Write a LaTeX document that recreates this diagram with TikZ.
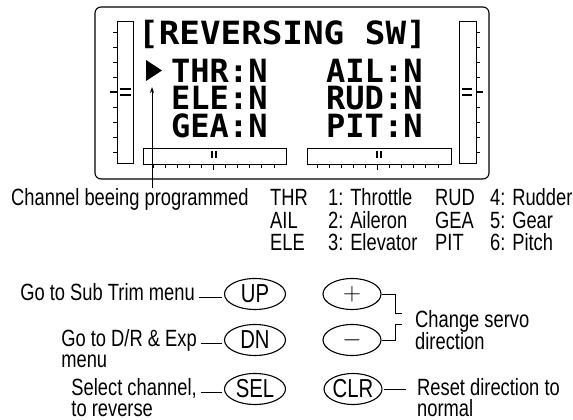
\documentclass[tikz,border=0pt]{standalone}
\usepackage{fontspec}
\setmainfont{Liberation Sans}[FakeStretch=0.78]
\newfontfamily\lcdfont{DejaVu Sans Mono}
\newfontfamily\lcdwide{DejaVu Sans Mono}[FakeStretch=1.07]
\usepackage{tikz}
\usetikzlibrary{positioning, shapes.geometric, arrows.meta}
\tikzset{
  lcd/.style={
    font=\lcdfont\bfseries\fontsize{32}{32}\selectfont,
    inner sep=0pt,
    text height=23pt, text depth=0pt,
    anchor=base west,
  },
  lbl/.style={
    font=\fontsize{23.5}{26}\selectfont,
    inner sep=0pt,
    anchor=base west,
  },
  btn/.style={
    draw, ellipse, line width=1.1pt,
    minimum width=61pt, minimum height=31pt,
    inner sep=0pt,
    font=\fontsize{26}{26}\selectfont,
  },
  bar/.style={draw, line width=0.9pt},
  conn/.style={line width=0.9pt}
}

\begin{document}
\begin{tikzpicture}[x=1pt, y=-1pt]
\useasboundingbox (0,0) rectangle (573,420);

% LCD frame
\draw[line width=1.1pt, rounded corners=6pt] (95,7) rectangle (489,179);

% Side trims
\draw[bar] (117,21) rectangle (133,163);
\draw[bar] (459,21) rectangle (476,163);
\foreach \y in {32,47,...,152} {
  \draw[bar] (113,\y) -- (117,\y);
  \draw[bar] (476,\y) -- (480,\y);
}
\draw[line width=1.6pt] (110,92) -- (117,92);
\draw[line width=1.6pt] (476,92) -- (483,92);
\draw[line width=1.4pt] (120,89) -- (131,89) (120,95) -- (131,95);
\draw[line width=1.4pt] (462,89) -- (472,89) (462,95) -- (472,95);

% Bottom trims
\draw[bar] (143,148) rectangle (286,164);
\draw[bar] (307,148) rectangle (451,164);
\foreach \k in {0,...,10} {
  \draw[bar] ({153+12.1*\k},164) -- ++(0,3.5);
  \draw[bar] ({317+12.1*\k},164) -- ++(0,3.5);
}
\draw[line width=1.6pt] (213.5,164) -- ++(0,5.5);
\draw[line width=1.6pt] (377.5,164) -- ++(0,5.5);
\draw[line width=1.4pt] (212,151) -- (212,158) (216,151) -- (216,158);
\draw[line width=1.4pt] (377,151) -- (377,158) (381,151) -- (381,158);

% Screen text
\node[lcd, font=\lcdwide\bfseries\fontsize{32}{32}\selectfont] (title) at (138,45) {[REVERSING SW]};
\fill (146,60) -- (162,70.5) -- (146,81) -- cycle;
\node[lcd] (thr) at (171,82) {THR:N};
\node[lcd] (ele) at (171,110) {ELE:N};
\node[lcd] (gea) at (171,137) {GEA:N};
\node[lcd] (ail) at (326,82) {AIL:N};
\node[lcd] (rud) at (326,110) {RUD:N};
\node[lcd] (pit) at (326,137) {PIT:N};

% Legend
\node[lbl] (chan) at (11,205) {Channel beeing programmed};
\coordinate (tip) at (152,87);
\draw[conn, -{Stealth[length=6pt, width=4pt]}] (chan.north -| tip) -- (tip);

\node[lbl] (ithr) at (270,205) {THR};
\node[lbl] (nthr) at (328,205) {1: Throttle};
\node[lbl] (irud) at (435,205) {RUD};
\node[lbl] (nrud) at (490,205) {4: Rudder};
\node[lbl] (iail) at (270,228) {AIL};
\node[lbl] (nail) at (328,228) {2: Aileron};
\node[lbl] (igea) at (435,228) {GEA};
\node[lbl] (ngea) at (490,228) {5: Gear};
\node[lbl] (iele) at (270,250) {ELE};
\node[lbl] (nele) at (328,250) {3: Elevator};
\node[lbl] (ipit) at (435,250) {PIT};
\node[lbl] (npit) at (490,250) {6: Pitch};

% Keys
\node[btn] (up) at (255,294) {UP};
\node[btn] (dn) at (255,340) {DN};
\node[btn] (sel) at (255,389) {SEL};
\node[btn, minimum width=58pt, font=\fontsize{30}{30}\selectfont] (plus) at (352,294) {$+$};
\node[btn, minimum width=58pt, font=\fontsize{30}{30}\selectfont] (minus) at (352,340) {$-$};
\node[btn, minimum width=58pt] (clr) at (353,389) {CLR};

% Left keys
\node[lbl, anchor=base east] (upl) at (195,300) {Go to Sub Trim menu};
\node[lbl, anchor=base east] (dnl) at (197,346) {Go to D/R \& Exp};
\node[lbl] (dnl2) at ([yshift=-21pt]dnl.base west) {menu};
\node[lbl, anchor=base east] (sell) at (197,395) {Select channel,};
\node[lbl] (sell2) at ([yshift=-21pt]sell.base west) {to reverse};
\draw[conn] ([xshift=4pt]upl.mid east) -- ([xshift=-2pt]upl.mid east -| up.west);
\draw[conn] ([xshift=4pt]dnl.mid east) -- ([xshift=-2pt]dnl.mid east -| dn.west);
\draw[conn] ([xshift=4pt]sell.mid east) -- ([xshift=-2pt]sell.mid east -| sel.west);

% Right keys
\node[lbl] (chg) at (415,327) {Change servo};
\node[lbl] (chg2) at ([yshift=-22pt]chg.base west) {direction};
\draw[conn] (plus.east) -- ++(14,0) -- ++(0,19) -- ++(6,0);
\draw[conn] (minus.east) -- ++(14,0) -- ++(0,-16) -- ++(6,0);
\node[lbl] (rst) at (417,395) {Reset direction to};
\node[lbl] (rst2) at ([yshift=-21pt]rst.base west) {normal};
\draw[conn, shorten <=1pt, shorten >=11pt] (clr.east) -- (clr.east -| rst.west);

\end{tikzpicture}
\end{document}
